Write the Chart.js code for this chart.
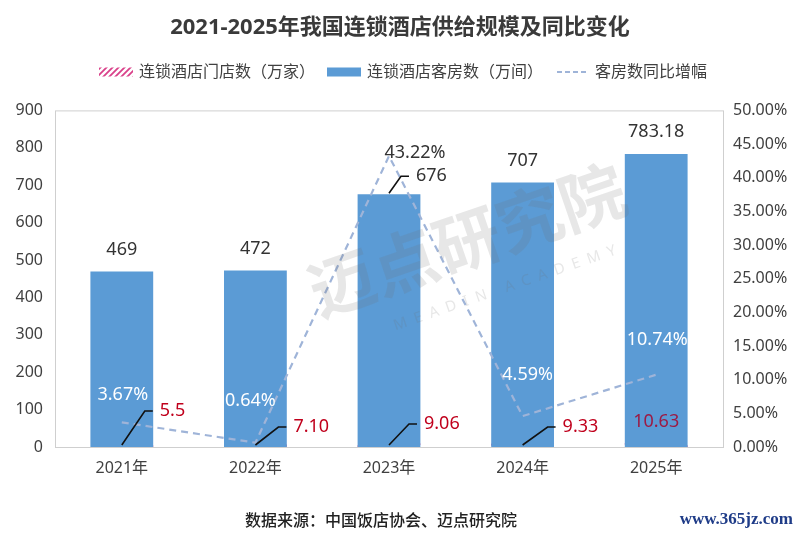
<!DOCTYPE html>
<html>
<head>
<meta charset="utf-8">
<script src="https://cdn.jsdelivr.net/npm/chart.js"></script>
<style>
  body { margin: 0; background: #fff; }
  #wrap { width: 800px; height: 534px; position: relative; }
</style>
</head>
<body>
<div id="wrap"><canvas id="supplyChart"></canvas></div>
<script>
const years = ['2021年', '2022年', '2023年', '2024年', '2025年'];
const storeCounts = [5.5, 7.10, 9.06, 9.33, 10.63];
const storeLabels = ['5.5', '7.10', '9.06', '9.33', '10.63'];
const roomCounts = [469, 472, 676, 707, 783.18];
const roomLabels = ['469', '472', '676', '707', '783.18'];
const roomGrowth = [3.67, 0.64, 43.22, 4.59, 10.74];

const FONT = "'Noto Sans', 'Noto Sans CJK SC', sans-serif";
const LINE_BLUE = '#9fb4d8';
const BAR_BLUE = '#5b9bd5';

// where each label sits relative to its mark
const storeTag = [
    { dx: 23, dy: -36, lead: true },
    { dx: 23, dy: -20, lead: true },
    { dx: 20, dy: -23, lead: true },
    { dx: 25, dy: -20, lead: true },
    { dx: 0, dy: -25, lead: false, color: '#9b1b45' }
];
const roomTag = [
    { dx: 0, dy: -22 },
    { dx: 0, dy: -22 },
    { dx: 12, dy: -18, lead: true },
    { dx: 0, dy: -22 },
    { dx: 0, dy: -22 }
];
const growthTag = [
    { dx: 1, dy: -27, color: '#fff' },
    { dx: -5, dy: -42, color: '#fff' },
    { dx: 26, dy: -3, color: '#333' },
    { dx: 5, dy: -41, color: '#fff' },
    { dx: 1, dy: -35, color: '#fff' }
];

function hatch(color) {
    const c = document.createElement('canvas');
    c.width = 6; c.height = 6;
    const g = c.getContext('2d');
    g.strokeStyle = color;
    g.lineWidth = 1.8;
    g.beginPath();
    g.moveTo(0, 6); g.lineTo(6, 0);
    g.moveTo(-3, 3); g.lineTo(3, -3);
    g.moveTo(3, 9); g.lineTo(9, 3);
    g.stroke();
    return g.createPattern(c, 'repeat');
}

const frame = {
    id: 'frame',
    beforeDatasetsDraw(chart) {
        const { ctx, chartArea: a } = chart;
        ctx.save();
        ctx.strokeStyle = '#cfcfcf';
        ctx.lineWidth = 1;
        ctx.strokeRect(a.left + 0.5, a.top + 0.5, a.right - a.left, a.bottom - a.top);
        ctx.restore();
    }
};

// legend drawn by hand so its spacing can match the picture
const topLegend = {
    id: 'topLegend',
    afterDraw(chart) {
        const { ctx } = chart;
        const ds = chart.data.datasets;
        const y = 72;
        ctx.save();
        ctx.font = '16px ' + FONT;
        ctx.textBaseline = 'middle';
        ctx.textAlign = 'left';
        const boxW = 34, gapText = 6, gapItem = 12;
        let total = 0;
        ds.forEach(d => { total += boxW + gapText + ctx.measureText(d.label).width; });
        total += gapItem * (ds.length - 1);
        let x = 403 - total / 2;
        ds.forEach(d => {
            if (d.type === 'line') {
                ctx.strokeStyle = d.borderColor;
                ctx.lineWidth = 2;
                ctx.setLineDash([5, 3]);
                ctx.beginPath();
                ctx.moveTo(x + 2, y);
                ctx.lineTo(x + boxW - 2, y);
                ctx.stroke();
                ctx.setLineDash([]);
            } else {
                ctx.fillStyle = d.backgroundColor;
                ctx.fillRect(x, y - 4.5, boxW, 9);
            }
            x += boxW + gapText;
            ctx.fillStyle = '#404040';
            ctx.fillText(d.label, x, y);
            x += ctx.measureText(d.label).width + gapItem;
        });
        ctx.restore();
    }
};

const labels = {
    id: 'labels',
    afterDatasetsDraw(chart) {
        const { ctx, scales: { y } } = chart;
        const zeroY = y.getPixelForValue(0);
        const storeMeta = chart.getDatasetMeta(0);
        const roomMeta = chart.getDatasetMeta(1);
        const lineMeta = chart.getDatasetMeta(2);
        ctx.save();

        // faint watermark
        ctx.save();
        ctx.translate(467, 240);
        ctx.rotate(-19 * Math.PI / 180);
        ctx.fillStyle = 'rgba(110,110,110,0.17)';
        ctx.font = "bold 66px 'Noto Sans CJK SC'";
        ctx.textAlign = 'center';
        ctx.textBaseline = 'middle';
        ctx.fillText('迈点研究院', 0, 0);
        ctx.font = "15px 'Noto Sans'";
        ctx.fillText('M  E  A  D  I  N     A  C  A  D  E  M  Y', 20, 58);
        ctx.restore();

        ctx.font = '18px ' + FONT;
        ctx.textBaseline = 'middle';
        ctx.lineWidth = 1.6;
        ctx.strokeStyle = '#111';

        roomMeta.data.forEach((bar, i) => {
            const t = roomTag[i];
            ctx.fillStyle = '#333';
            if (t.lead) {
                const kx = bar.x + t.dx, ky = bar.y + t.dy;
                ctx.beginPath();
                ctx.moveTo(bar.x, bar.y - 1);
                ctx.lineTo(kx, ky);
                ctx.lineTo(kx + 8, ky);
                ctx.stroke();
                ctx.textAlign = 'left';
                ctx.fillText(roomLabels[i], kx + 15, ky);
            } else {
                ctx.textAlign = 'center';
                ctx.fillText(roomLabels[i], bar.x + t.dx, bar.y + t.dy);
            }
        });

        storeMeta.data.forEach((bar, i) => {
            const t = storeTag[i];
            ctx.fillStyle = t.color || '#c0001c';
            const kx = bar.x + t.dx, ky = zeroY + t.dy;
            if (t.lead) {
                ctx.beginPath();
                ctx.moveTo(bar.x, zeroY - 2);
                ctx.lineTo(kx, ky);
                ctx.lineTo(kx + 8, ky);
                ctx.stroke();
                ctx.textAlign = 'left';
                ctx.fillText(storeLabels[i], kx + 15, ky);
            } else {
                ctx.textAlign = 'center';
                ctx.fillText(storeLabels[i], kx, ky);
            }
        });

        lineMeta.data.forEach((pt, i) => {
            const t = growthTag[i];
            ctx.fillStyle = t.color;
            ctx.textAlign = 'center';
            ctx.fillText(roomGrowth[i].toFixed(2) + '%', pt.x + t.dx, pt.y + t.dy);
        });

        ctx.restore();
    },
    afterDraw(chart) {
        const { ctx } = chart;
        ctx.save();
        ctx.textBaseline = 'middle';
        ctx.textAlign = 'center';
        ctx.fillStyle = '#222';
        ctx.font = "500 16px 'Noto Sans CJK SC'";
        ctx.fillText('数据来源：中国饭店协会、迈点研究院', 381, 520);
        ctx.textAlign = 'right';
        ctx.fillStyle = '#1f3c88';
        ctx.font = "bold 17px 'Liberation Serif'";
        ctx.fillText('www.365jz.com', 793, 520);
        ctx.restore();
    }
};

new Chart(document.getElementById('supplyChart'), {
    data: {
        labels: years,
        datasets: [{
            type: 'bar',
            label: '连锁酒店门店数（万家）',
            data: storeCounts,
            backgroundColor: hatch('#d9418a'),
            yAxisID: 'y',
            grouped: false,
            barPercentage: 0.47,
            categoryPercentage: 1,
            order: 2
        }, {
            type: 'bar',
            label: '连锁酒店客房数（万间）',
            data: roomCounts,
            backgroundColor: BAR_BLUE,
            yAxisID: 'y',
            grouped: false,
            barPercentage: 0.47,
            categoryPercentage: 1,
            order: 1
        }, {
            type: 'line',
            label: '客房数同比增幅',
            data: roomGrowth,
            yAxisID: 'y1',
            borderColor: LINE_BLUE,
            backgroundColor: LINE_BLUE,
            borderWidth: 2.2,
            borderDash: [7, 5],
            pointRadius: 0,
            tension: 0,
            order: 0
        }]
    },
    options: {
        responsive: true,
        maintainAspectRatio: false,
        animation: false,
        layout: { padding: { left: 0, right: 0, top: 0, bottom: 0 } },
        plugins: {
            title: {
                display: true,
                text: '2021-2025年我国连锁酒店供给规模及同比变化',
                color: '#3a3a3a',
                font: { family: FONT, size: 22, weight: 'bold' },
                padding: { top: 15, bottom: 69 }
            },
            legend: { display: false },
            tooltip: { enabled: false }
        },
        scales: {
            x: {
                grid: { display: false, drawTicks: false },
                border: { display: false },
                ticks: { color: '#404040', font: { family: FONT, size: 16 }, padding: 12 },
                afterFit(s) { s.height = 87; }
            },
            y: {
                position: 'left',
                min: 0,
                max: 900,
                ticks: { stepSize: 100, color: '#404040', font: { family: FONT, size: 16 }, padding: 12 },
                grid: { display: false, drawTicks: false },
                border: { display: false },
                afterFit(s) { s.width = 55; }
            },
            y1: {
                position: 'right',
                min: 0,
                max: 50,
                ticks: {
                    stepSize: 5,
                    color: '#404040',
                    font: { family: FONT, size: 16 },
                    padding: 10,
                    callback: v => v.toFixed(2) + '%'
                },
                grid: { display: false, drawTicks: false },
                border: { display: false },
                afterFit(s) { s.width = 77; }
            }
        }
    },
    plugins: [frame, topLegend, labels]
});
</script>
</body>
</html>
